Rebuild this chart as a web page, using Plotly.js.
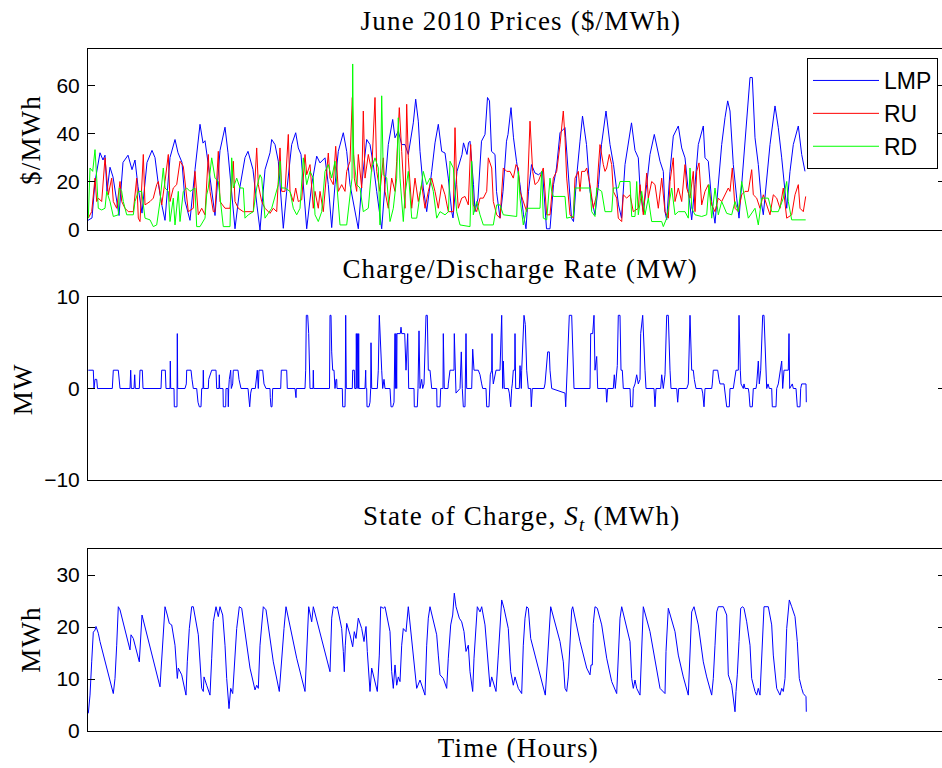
<!DOCTYPE html>
<html>
<head>
<meta charset="utf-8">
<script src="https://cdn.plot.ly/plotly-3.0.1.min.js"></script>
<style>
html,body{margin:0;padding:0;overflow:hidden;background:#fff;}
#chart{width:947px;height:768px;}
#chart .annotation-text{letter-spacing:1.2px;}
</style>
</head>
<body>
<div id="chart"></div>
<script>
// ---- Prices panel (hours, $/MWh) ----
const lmpT = [0,4,7,12,15,17,19,22,25,29,31,35,40,44,47,50,54,59,64,67,70,74,77,82,87,90,94,97,102,107,112,115,117,120,124,127,132,137,140,144,147,152,157,160,165,169,172,177,182,
183.7,187,190.3,192,195.3,198.7,203.7,207.7,210.3,213,215.3,218.7,223.7,228.7,232,237,240.3,243.7,247,250.3,255.3,258.7,262,267,270.3,273.7,278.7,282,285.3,288.7,293.7,297,300.3,304.7,307,310.3,313.7,317,320.3,325.3,327.7,330.3,332,335.3,338.7,343.7,347,350.3,353.7,357,360.3,363.7,
365,369,374,375.5,379,380.5,382,385.5,387,390,393.5,397,399.5,401.5,403.5,407,408.5,412,415,418.5,420,423,425.5,428.5,432,435.5,438,440.5,443.5,447,450.5,454.5,457,458.5,462,465.5,468.5,472,477,480.5,483.5,485.5,488.5,492,494.5,498.5,502,507,510.5,513.5,518,522,525.5,530.5,533.5,537,540.5,543.5,
547,550.3,552,555.3,558.7,562,566.3,568.7,572,575.3,577,578.7,582,585.3,590.3,593.7,597,600.3,603.7,607,610.3,615.3,617,620.3,623.7,627,630.3,633.7,637,639.7,642,645.3,648.7,651,653.7,657,662,664.3,667,670.3,673.7,675.3,678.7,682,687,690.3,693.7,697,698.7,702,705.3,710.3,713.7,717];
const lmpV = [4,5,20,32,29,31,16,26,22,10,6,28,31,25,29,18,7,28,33,30,20,10,4,30,37.5,32,28,12,4,25,43.8,36,37,28,15,6,33,42.6,32,12,0.5,18,30,32.6,25,10,0,25,32,
37.5,35.4,28.5,18.8,0.7,16,35.4,40.3,34,31.3,18.8,0.5,18.8,30.6,27.8,29.9,18.8,1,18.8,32.6,40.3,32.6,18.8,7.6,0.5,18.8,37.5,35.4,27.1,16,0.5,18.8,35.4,45.8,38.2,41,35.4,35.4,31.3,44.4,54.2,45.1,32.6,17.4,7.6,24.3,36.1,43.8,32.6,31.9,21.5,7.6,
5,24.3,31.3,36.1,31.3,36.1,36.8,18.8,7.6,13.2,36.8,39.6,54.9,53.5,32.6,31.3,16,4.9,16,36.8,39.6,50.7,38.2,28.5,18.8,6.3,0.5,16,27.1,23.6,22.9,24.3,9,0.5,0.5,18.8,25.7,40.3,42.4,21.5,4.9,3.5,21.5,36.8,47.2,35.4,16,6.3,18.8,35.4,49.3,35.4,27.1,10.4,4.9,27.1,36.8,44.4,
33,29.9,17.4,7.6,18.8,31.3,39.6,35.4,28.5,24.3,7.6,4.2,24.3,38.9,43.1,34,29.9,16,4.2,18.8,35.4,43.1,29.9,28.5,11.8,2.8,18.8,35.4,46.5,53.5,49.3,27.1,13.2,4.9,18.8,35.4,63.2,63.2,38.2,27.1,10.4,6.3,21.5,35.4,51.4,42.4,29.9,16,9,24.3,35.4,43.1,31.3,24.3];

const ruT = [0.3,3.7,7,8.7,10.3,13.7,17,20.3,23.7,25.3,28.7,32,33.7,37,40.3,45.3,48.7,50.3,52,53.7,55.3,57,62,65.3,68.7,70.3,73.7,77,80.3,82,85.3,88.7,92,95.3,97,100.3,105.3,107,110.3,113.7,117,120.3,122,125.3,127,130.3,132,137,142,145.3,147,150.3,155.3,160.3,165.3,168.7,170.3,173.7,
177,182,185.3,188.7,192,193.7,197,200.3,202,205.3,207.7,210.3,213.7,217,218.7,222,223.7,225.3,227,230.3,232,235.3,240.3,242,245.3,247.7,250.3,253.7,257,258.7,262,264.3,266.3,268.7,270.3,273.7,275.3,277,280.3,283.7,287,288.7,292,295.3,297,300.3,303.7,307,308.7,311.3,313.7,317,318.7,320.3,323.7,327,330.3,333.7,337,340.3,343.7,347,350.3,353.7,357,360.3,
365.3,367,368.7,370.3,373.7,377,380.3,382.7,385.3,388.7,392,395.3,398.7,400.3,403.7,405.3,408.7,412,415.3,418.7,422,425.3,428,430.3,432,435.3,438.7,442,444.7,447,450.3,455.3,458.7,462,465.3,468.7,472,475.3,477,478.7,482,485.3,487,490.3,492,493.7,497,498.7,502,505.3,508.7,510.3,512,515.3,517,518.7,521.3,523.7,525.3,528.7,530.3,533.7,535.3,538.7,542,545.3,
550.3,552,555.3,558.7,560.3,563.7,567,570.3,573.7,577,580.3,582,585.3,587,590.3,593.7,597,598.7,602,605.3,607,608.7,611,613.7,617,620.3,623.7,627,630.3,633.7,640.3,642,644.3,647,650.3,653.7,657,660.3,663.7,665.3,668.7,672,675.3,678.7,682,685.3,688.7,692,695.3,698.7,703.7,707,710.3,712,715.3,717.7];
const ruV = [4.9,7.6,21.5,11.8,13.2,11.8,29.9,14.6,21.5,11.8,9,20.1,11.8,9,7.6,7.6,21.5,4.9,3.5,21.5,31.3,10.4,11.8,13.2,18.8,20.1,10.4,20.1,31.3,11.8,17.4,18.8,28.5,26.4,20.1,7.6,9,24.3,6.3,9,6.3,31.3,16,7.6,7.6,32.6,11.8,9,9,28.5,11.8,9,7.6,7.6,7.6,34,18.8,11.8,
9,6.9,9,7.6,34,16,16,39.6,16,11.8,17.4,11.8,12.5,31.3,22.9,27.1,18.8,9,16,9,16,7.6,31.9,21.5,18.8,34.7,16,18.8,16,24.3,28.5,54.9,21.5,16,31.3,17.4,49.3,21.5,31.3,24.3,54.9,24.3,16,29.9,16,9,21.5,16,28.5,50.7,32.6,9,52.1,29.9,9,21.5,11.8,18.8,9,16,21.5,16,9,18.8,14.6,7.6,
7.6,42.4,18.8,9,13.2,13.9,10.4,35.4,10.4,7.6,13.2,13.2,16,29.9,25.7,11.8,6.3,4.9,25.7,24.3,24.3,21.5,27.1,25.7,16,11.8,7.6,45.1,24.3,18.8,20.1,25.7,6.3,6.3,21.5,24.3,35.4,49.3,38.2,21.5,6.3,4.9,21.5,24.3,16,24.3,24.3,25.7,18.8,9,14.6,25.7,35.4,27.1,24.3,25.7,31.3,27.1,16,13.2,4.9,3.5,14.6,13.2,14.6,7.6,
9,18.8,6.3,23.6,13.2,20.1,18.8,9,21.5,7.6,4.9,20.1,29.9,11.8,17.4,11.8,27.1,17.4,13.2,24.3,7.6,24.3,27.8,10.4,16,18.8,10.4,7.6,13.2,11.8,17.4,16,25.7,9,7.6,14.6,16,16,25,14.6,13.2,9,14.6,10.4,6.3,14.6,13.2,9,17.4,4.9,6.3,14.6,18.8,9,7.6,13.9];

const rdT = [0.3,2,4.7,7,8.7,10.3,13.7,17,18.7,22,25.3,30.3,31.3,33.7,35.3,38.7,45.3,47,50.3,53.7,57,62,65.3,68.7,72,75.3,77,80.3,82,85.3,87,90.3,92,95.3,98.7,102,107,108.7,112,117,118.7,120.3,123.7,127,130.3,132,135.3,142,143.7,145.3,148.7,152,155.3,157,160.3,165.3,168.7,172,173.7,177,
183.7,190.3,192,193.7,197,202,205.3,208.7,212,215.3,218.7,222,225.3,227,230.3,233.7,237,240.3,243.7,247,248.7,252,258.7,264,264.7,265.5,268.7,272,275.3,280.3,283.7,287,290.3,292,293.7,295.3,298.7,302,305.3,308.7,310.3,312,315.3,317,320.3,323.7,328.7,332,335.3,338.7,342,345.3,348.7,352,357,360.5,
362,365.3,367,368.7,372,382,383.7,385.3,388.7,392,395.3,405.3,408.7,412,415.3,428.7,430.3,432,435.3,438.7,452,453.7,455.3,458.7,462,463.7,465.3,477,478.7,485.3,487,502,503.7,507,508.7,513.7,517,523.7,525.3,530.3,532,542,543.7,547,
548.7,550.3,553.7,557,560.3,563.7,573.7,575.3,578.7,583.7,587,590.3,597,600.3,602,603.7,607,613.7,618.7,621,623.7,627,630.3,633.7,638.7,643.7,647,650.3,653.7,657,660.3,667,670.3,673.7,680.3,683.7,690.3,695.3,698.7,700.3,703.7,717.7];
const rdV = [4.9,25.7,24.3,33.3,21.5,9,8.3,9,16,11.8,5.6,6.3,17.4,16,11.8,6.3,6.3,11.8,16,16,4.9,4.2,1.4,2.1,11.8,25.7,17.4,16,3.5,13.2,2.1,16,3.5,16,17.4,16,17.4,1.4,1.4,4.9,14.6,17.4,29.9,21.5,20.1,13.2,1.4,1.4,29.9,17.4,21.5,17.4,17.4,4.9,6.3,7.6,17.4,22.9,21.5,4.9,
9,18.8,28.5,17.4,17.4,16,9,6.3,9,29.9,18.8,24.3,21.5,6.3,3.5,7.6,24.3,27.1,21.5,28.5,18.8,2.1,2.1,21.5,68.8,31.3,18.8,17.4,7.6,9,25.7,29.9,25.7,2.1,55.6,22.9,21.5,3.5,9,21.5,46.5,21.5,3.5,14.6,24.3,4.9,4.9,14.6,24.3,18.8,21.5,16,4.9,7.6,6.3,7.6,
28.5,25.7,16,7.6,2.1,1.4,28.5,6.3,11.8,6.3,2.1,2.1,10.4,10.4,6.3,5.6,24.3,13.2,2.1,9,9,24.3,4.9,4.2,21.5,16,13.9,13.9,4.9,5.6,17.4,17.4,7.6,5.6,17.4,16,7.6,7.6,17.4,17.4,20.1,20.1,5.6,5.6,
20.1,6.3,16,6.3,13.2,3.5,3.5,1.4,4.9,17.4,6.3,7.6,7.6,4.9,25.7,9,6.3,5.6,6.3,18.8,4.9,17.4,6.3,11.8,6.9,6.3,11.8,7.6,20.1,11.8,4.9,9,2.1,13.2,13.2,7.6,7.6,13.2,20.1,11.8,4.2,4.2];

// ---- Charge/discharge rate panel (MW) ----
const rateT = [0.3,5.3,6,7,8.7,9.5,24.3,25.3,30.3,31.3,32,42,42.7,43.3,46,46.7,47.3,51.3,52,54.3,55,73,73.7,77.3,78,82,82.3,82.7,86,86.3,89,89.3,89.7,97,98.3,98.7,103,104,105.3,108.7,110,111.3,113,113.7,115,115.3,115.7,120.3,120.7,123.7,128,128.7,131,131.3,131.7,135,135.3,137.7,138,140,140.3,140.7,141.3,142.7,143.3,144.7,145.3,150,151,153,160,161,161.7,162.7,163.7,167.3,168.3,169.3,170.3,171,174.7,176,178,182,182.3,183,184,184.7,192.7,193.3,198.7,199.3,207,207.3,208,208.3,217,217.7,218.3,219.7,220.7,222,225,225.3,225.7,
232,241.5,242,243,243.7,244.7,246,247,248,248.7,249,254.3,254.7,257,257.3,257.7,258.3,264.3,264.7,266.3,266.7,268,268.3,269,269.3,270.3,270.7,271,277,277.7,278,278.7,279,281,282,282.7,283,283.7,289.3,290.3,291.3,292.7,293.7,294.7,296,297,302,303,304.7,306,306.3,306.7,307,307.3,308,308.7,309,312.3,313,313.7,316.7,318,319.7,320.7,326,326.3,329.3,330,331,332,333.7,334.7,336,338,339.3,340.3,342,343.7,348.7,349,352,352.7,355,355.3,356.3,360,360.3,362,366,366.3,367.3,368,372,373.3,374.3,375.3,377,377.3,378,378.7,383.7,384.7,386,390.3,392,393.7,394.7,398,398.7,401,401.7,402.3,403.7,404,404.3,405.3,408,412,413.7,414.7,415.3,416.3,420.3,421.3,422.7,423.7,424.3,425.3,426.7,427,427.7,431.3,432,433.3,433.7,436,437.3,438.7,440.3,442.7,443.3,444.3,456,457,458,459.7,461.3,462,463.7,
475.3,477,477.7,478.3,479.3,480.3,481.3,483.7,484.7,485.3,486,502,502.7,504.7,506,507,508.7,509.7,518,518.7,519.7,525.3,526.3,527.3,528.7,529.3,530.3,532,533,534.3,535.3,542,542.7,544.7,545.3,547,548.7,550.3,552,552.7,554.7,555.3,557,558,566,567,568,572.7,573.7,575.3,577,578.7,580.3,582,583,588.7,589.7,590.7,598.7,600.3,602,603.7,605.3,606.3,608,613.7,614.7,616,617,623.7,624.3,625.3,629.7,631,632,636,638.7,641.3,642,645.3,647,648,650.3,651,652.3,653,655.3,656,657,660.3,661,662,664.3,665.3,668,668.7,670.3,671.3,672.7,673.7,674.7,676,677.3,678,678.7,680,681.3,683.7,684.3,688,688.7,690.3,693.7,694.7,696,700.3,701,701.7,704.3,705.3,708,709.3,712,712.7,713.7,718,718.3];
const rateV = [2,2,0,1,1,0,0,2,2,1,0,0,2,0,0,1.5,0,0,2,2,0,0,2,2,0,0,3,0,0,-2,-2,6,0,0,0.5,2,2,1,0,0,-1.5,-2,-2,0,0,2,0,0,1,2,2,0,0,1.5,0,0,-2,-2,0,0,-2,0,1,2,0,0.5,2,2,1,0,0,-1,-2,-0.5,0,0,1,2,0,2,2,0.5,0,0,-1,-2,-2,0,0,2,2,0,0,-1,-1,0,0,2,8,8,6,0,0,2,0,
0,0,8,8,4,2,2,0,1,1,0,0,-2,-2,0,8,0,0,2,2,0,0,6,0,6,0,6,0,0,2,0,0,-2,-2,-1.5,0,5,0,0,2,8,3,2,0,1,0,0,-2,-2,-1.5,6,0,6,0,6,0,6,6,6.7,6,6,2,6,0,0,-2,-2,0,6.3,0,1,0,0.5,8,8,2,2,0,0,-2,-2,0,0,6,0,0,0.5,2,2,6,0,-0.5,0,4,0,-2,-2,0,6,0,0,4.3,2,2,1.5,0.5,0,0,-2,-2,0,1.5,2,6,2,0.5,2,2,8,0,3,0,0,-0.5,-2,0,0.5,2,2,6,0,0,2.5,0,2,8,7,2,0,0,-2,0,0,0.5,2,4,4,2,0,
-0.5,-0.5,-2,0,2,6,8,8,3,1,0,0,6,6,8,2,3.5,0,0,-1.5,0,0,1.5,0,1.5,2.5,8,8,2,2,0,0,-2,-2,0,0.5,1.5,0.5,1,6,8,6,2,0,0,-2,0,0,1.5,0,1.5,8,8,2,0,0,-1.5,0,0,0.5,8,2,2,1,0,0,-0.5,-2,0,0,0.5,2,2,1,0.5,0.5,-2,-2,0,0,1.5,2,2,8,2,0.5,0,0.5,0,0,-0.5,-2,-2,0,0,0.5,3,0.5,2,6,8,8,4.5,2,0,0.5,0,0,-2,-2,0,0.5,3,0,2,2,6,0,0.5,0,0,-2,-2,0,0.5,0.5,-1.5];

// ---- State of charge panel (MWh) ----
const socT = [0.3,2,3.7,5.3,7,8,10.3,12,25.3,27,28.7,30.3,32,42,43,45.3,51.3,52.7,54,72,73.7,75.3,77,79.3,81.3,83.7,87,89.3,90.3,93.7,98,99.3,101.3,103.7,105.3,110.3,113.7,115.3,116,118.7,122,123.7,125.3,128,130.3,132,134.7,137,138.7,141,142.7,144.7,147,148.7,151.3,153.7,162,167,168.7,170.3,172,173.7,175.3,178,185.3,191.3,193.7,196,198,208.7,217,218.7,220.7,223.7,225.3,
242,242.7,243.7,245.3,248,249.3,253.7,255.3,256.3,257.3,258.7,262,264.7,266.3,268,270.3,273.7,276,278,279.3,282,283.7,285.3,289.3,291.3,292.7,295.3,297,302,303.7,305.3,307,308.7,310.3,312,313.7,315.3,318,320.3,327,328.7,332,337,338.7,340.3,342,348.7,350.3,352,355.3,358.7,360.3,362.7,364.7,366.3,368,371.3,373.7,376,378,380.3,382,384.7,386,388,389.3,392,393.7,397,398.7,400.3,402,403.7,408,410.3,412,413.7,416,420.3,422.7,425.3,427,430.3,433.7,435.3,437,438.7,440.3,442.7,457.3,459.3,461.3,462.7,
472,475.3,477,478.7,480.3,482,483.7,484.7,488.7,492,498.7,502,503,504.3,505.3,507,509.3,513.7,518.7,523.7,528.7,530.3,532,533.7,538.7,542,543.7,545.3,547,548.7,552,553.7,555.3,562,567,572,577,578,580.3,587,590.3,595.3,600.3,602,603.7,606,610.3,615.3,618.7,623.7,625.3,627,628.7,630.3,635.3,638.7,640.3,643.7,647,648,649.3,651,652.7,654.7,656,658.7,662,663.7,667,668.7,670.3,672,673.7,676,680.3,683.7,685.3,688.7,692,693.7,695.3,697,698.7,701.3,703.7,707,709.3,711.3,713.7,715.3,718,718.3];
const socV = [3.4,6.9,13.3,19,19.4,20.1,18.8,17.2,7.2,10.1,16.5,23.9,23.3,15.6,18.5,17.8,13.3,19.1,22.3,8.5,14.6,19.7,23.9,22.3,20.7,20.4,16.5,10.1,12.1,10.8,6.9,13.3,19.7,23.9,23.9,18.5,8.2,7.6,10.4,8.8,6.9,14,21,23.9,22,23.9,22.3,16.5,10.1,4.3,8.2,7.2,14,19.7,23.9,23.6,12.1,7.9,8.8,8.2,16.5,21,23.9,23.3,13.3,7.6,14.6,19.7,23.9,14,7.6,15.3,23.9,21,23.9,
11.4,17.8,21.7,23.9,23.6,23.9,19.7,15.3,11.4,16.5,20.7,18.5,16.2,19.1,17.8,21.7,19.7,17.2,20.1,15.3,7.6,12.1,10.8,7.6,14.6,23.9,23.6,23.9,19.1,11.4,8.2,12.7,8.8,10.4,9.5,16.5,19.7,19.1,23.9,12.1,8.2,9.8,6.9,16.5,21.7,23.9,18.5,14.6,10.8,10.1,8.2,14,20.4,22.3,26.5,23.9,21.7,21,19.1,15.3,16.5,11.4,7.6,14,21,23.9,22.9,23.9,20.4,16.5,11.4,8.5,10.4,7.6,14.6,20.4,25.2,23.6,19.7,11.4,8.8,10.4,8.2,7.2,16.5,21.7,23.9,23.6,17.8,6.9,14,21,23.9,
17.2,13.3,8.2,7.6,10.4,17.2,23.3,23.9,20.4,17.2,12.1,10.8,12.7,12.7,20.7,23.9,23.6,20.4,14,9.5,7.2,15.3,21.7,23.9,19.7,17.2,10.1,8.2,9.8,8.2,6.9,15.3,23.9,19.1,13.3,8.2,7.2,15.3,23.6,19.1,14.6,10.4,6.9,15.3,22.9,23.9,20.4,13.3,10.4,6.9,10.1,16.5,22.9,23.9,23.9,22.3,10.8,8.8,3.7,7.6,10.8,17.2,23.6,23.9,23.6,21,16.5,10.1,7.6,6.9,8.2,6.9,15.3,23.9,23.9,20.4,14.6,8.2,6.9,8.2,7.6,10.1,19.7,25.2,23.9,22,17.2,10.1,8.2,7.2,6.6,3.7];

// ---- tick values / labels ----
const priceTicks = [0, 20, 40, 60];
const rateTicks = [-10, 0, 10];
const socTicks = [0, 10, 20, 30];

const serif = 'Liberation Serif, Times New Roman, serif';
const sans = 'Liberation Sans, Arial, sans-serif';
const lw = 1;

const traces = [
  {x: lmpT, y: lmpV, name: 'LMP', type: 'scatter', mode: 'lines', line: {color: '#0000ff', width: lw}, xaxis: 'x', yaxis: 'y'},
  {x: ruT, y: ruV, name: 'RU', type: 'scatter', mode: 'lines', line: {color: '#ff0000', width: lw}, xaxis: 'x', yaxis: 'y'},
  {x: rdT, y: rdV, name: 'RD', type: 'scatter', mode: 'lines', line: {color: '#00ff00', width: lw}, xaxis: 'x', yaxis: 'y'},
  {x: rateT, y: rateV, name: 'rate', type: 'scatter', mode: 'lines', line: {color: '#0000ff', width: lw}, xaxis: 'x2', yaxis: 'y2', showlegend: false},
  {x: socT, y: socV, name: 'soc', type: 'scatter', mode: 'lines', line: {color: '#0000ff', width: lw}, xaxis: 'x3', yaxis: 'y3', showlegend: false}
];

function xax(anchor) {
  return {anchor: anchor, range: [0, 857], showticklabels: false, ticks: '', showgrid: false, zeroline: false,
          showline: true, mirror: true, linecolor: '#000', linewidth: 1, domain: [0, 1], fixedrange: true};
}
function yax(anchor, dom, range, ticks) {
  return {anchor: anchor, domain: dom, range: range, tickvals: ticks, ticktext: ticks.map(v => v < 0 ? '\u2212' + Math.abs(v) : String(v)),
          ticks: 'inside', ticklen: 7, tickwidth: 1, tickcolor: '#000', showgrid: false, zeroline: false,
          showline: true, mirror: 'ticks', linecolor: '#000', linewidth: 1,
          tickfont: {family: sans, size: 21, color: '#000'}, ticklabelstandoff: 3, fixedrange: true};
}

const H = 768;
const pyFrac = px => (H - px) / H;
const pxFrac = px => (px - 88) / 857;

const layout = {
  width: 947, height: 768,
  margin: {l: 88, r: 2, t: 0, b: 0},
  paper_bgcolor: '#fff', plot_bgcolor: '#fff',
  showlegend: true,
  xaxis: xax('y'),
  xaxis2: xax('y2'),
  xaxis3: xax('y3'),
  yaxis: yax('x', [pyFrac(230), pyFrac(49)], [0, 75], priceTicks),
  yaxis2: yax('x2', [pyFrac(480), pyFrac(297)], [-10, 10], rateTicks),
  yaxis3: yax('x3', [pyFrac(731), pyFrac(549)], [0, 35], socTicks),
  legend: {x: pxFrac(938), xanchor: 'right', y: pyFrac(58), yanchor: 'top', bgcolor: '#fff', bordercolor: '#000', borderwidth: 1,
           font: {family: sans, size: 23, color: '#000'}, itemwidth: 66, tracegroupgap: 0},
  annotations: [
    {text: 'June 2010 Prices ($/MWh)', x: pxFrac(521), y: pyFrac(21), xref: 'paper', yref: 'paper', showarrow: false, xanchor: 'center', yanchor: 'middle', font: {family: serif, size: 27, color: '#000'}},
    {text: 'Charge/Discharge Rate (MW)', x: pxFrac(520), y: pyFrac(269), xref: 'paper', yref: 'paper', showarrow: false, xanchor: 'center', yanchor: 'middle', font: {family: serif, size: 27, color: '#000'}},
    {text: 'State of Charge, <i>S</i><sub><i>t</i></sub> (MWh)', x: pxFrac(521), y: pyFrac(518), xref: 'paper', yref: 'paper', showarrow: false, xanchor: 'center', yanchor: 'middle', font: {family: serif, size: 27, color: '#000'}},
    {text: 'Time (Hours)', x: pxFrac(518), y: pyFrac(748), xref: 'paper', yref: 'paper', showarrow: false, xanchor: 'center', yanchor: 'middle', font: {family: serif, size: 27, color: '#000'}},
    {text: '$/MWh', x: pxFrac(31), y: pyFrac(140), xref: 'paper', yref: 'paper', showarrow: false, xanchor: 'center', yanchor: 'middle', textangle: -90, font: {family: serif, size: 27, color: '#000'}},
    {text: 'MW', x: pxFrac(23), y: pyFrac(389), xref: 'paper', yref: 'paper', showarrow: false, xanchor: 'center', yanchor: 'middle', textangle: -90, font: {family: serif, size: 27, color: '#000'}},
    {text: 'MWh', x: pxFrac(31), y: pyFrac(640), xref: 'paper', yref: 'paper', showarrow: false, xanchor: 'center', yanchor: 'middle', textangle: -90, font: {family: serif, size: 27, color: '#000'}}
  ]
};

Plotly.newPlot('chart', traces, layout, {staticPlot: true, displayModeBar: false});
</script>
</body>
</html>
